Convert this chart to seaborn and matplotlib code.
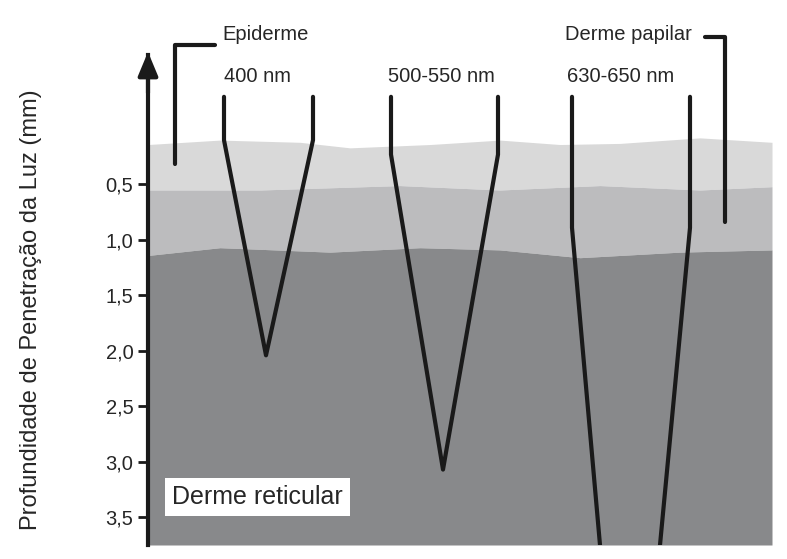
import matplotlib.pyplot as plt
import numpy as np
import pandas as pd
import seaborn as sns

sns.set_theme(style="white", rc={"figure.facecolor": "white"})
plt.rcParams["font.family"] = ["Liberation Sans", "DejaVu Sans"]

# depth in mm, x in horizontal diagram units
top_x = [148, 220, 300, 350, 430, 500, 560, 620, 700, 772]
top_d = [0.14, 0.10, 0.12, 0.17, 0.14, 0.10, 0.14, 0.13, 0.08, 0.12]
mid_x = [148, 260, 400, 500, 600, 700, 772]
mid_d = [0.55, 0.55, 0.51, 0.55, 0.51, 0.55, 0.52]
low_x = [148, 220, 330, 420, 500, 580, 680, 772]
low_d = [1.14, 1.07, 1.11, 1.07, 1.09, 1.16, 1.11, 1.09]
bottom_d = 3.75

ticks = [0.5, 1.0, 1.5, 2.0, 2.5, 3.0, 3.5]
tick_labels = ["0,5", "1,0", "1,5", "2,0", "2,5", "3,0", "3,5"]

# penetration paths per wavelength band
paths = {
    "400 nm": ([224, 224, 266, 313, 313], [-0.29, 0.10, 2.04, 0.10, -0.29]),
    "500-550 nm": ([391, 391, 443, 498, 498], [-0.29, 0.23, 3.07, 0.23, -0.29]),
    "630-650 a": ([572, 572, 600], [-0.29, 0.89, 3.75]),
    "630-650 b": ([690, 690, 660], [-0.29, 0.89, 3.75]),
}
band_labels = [("400 nm", 224), ("500-550 nm", 388), ("630-650 nm", 567)]

fig = plt.figure(figsize=(7.87, 5.59), dpi=100)
ax = fig.add_axes([148 / 787, 14 / 559, 624 / 787, 490 / 559])
ax.set_xlim(148, 772)
ax.set_ylim(bottom_d, -0.667)

grid = np.array(sorted(set(top_x + mid_x + low_x)))
t = np.interp(grid, top_x, top_d)
m = np.interp(grid, mid_x, mid_d)
l = np.interp(grid, low_x, low_d)
ax.fill_between(grid, t, m, color="#d9d9d9", lw=0)
ax.fill_between(grid, m, l, color="#bcbcbe", lw=0)
ax.fill_between(grid, l, bottom_d, color="#88898b", lw=0)

for name, (xs, ds) in paths.items():
    df = pd.DataFrame({"x": xs, "d": ds})
    sns.lineplot(data=df, x="x", y="d", sort=False, estimator=None,
                 color="#1a1a1a", lw=3, ax=ax)

for txt, x in band_labels:
    ax.text(x, -0.47, txt, fontsize=14.5, va="center", ha="left")

# brackets
ax.plot([175, 175, 215], [0.32, -0.76, -0.76], color="#1a1a1a", lw=3,
        clip_on=False)
ax.text(222, -0.85, "Epiderme", fontsize=14.5, va="center")
ax.plot([705, 725, 725], [-0.83, -0.83, 0.84], color="#1a1a1a", lw=3,
        clip_on=False)
ax.text(692, -0.85, "Derme papilar", fontsize=14.5, va="center", ha="right")

ax.text(172, 3.32, "Derme reticular", fontsize=18, va="center",
        bbox=dict(facecolor="white", edgecolor="none", pad=5))

for s in ["top", "right", "bottom"]:
    ax.spines[s].set_visible(False)
ax.spines["left"].set_linewidth(3)
ax.spines["left"].set_color("#1a1a1a")
ax.annotate("", xy=(148, -0.72), xytext=(148, -0.3),
            arrowprops=dict(arrowstyle="-|>,head_width=0.5,head_length=1.2",
                            color="#1a1a1a", lw=3), annotation_clip=False)
ax.set_xticks([])
ax.set_yticks(ticks)
ax.set_yticklabels(tick_labels, fontsize=14.5)
ax.tick_params(axis="y", left=True, length=7, width=2, color="#1a1a1a")
ax.set_ylabel("Profundidade de Penetração da Luz (mm)", fontsize=17)
ax.yaxis.set_label_coords(-0.17, 0.48)
ax.set_xlabel("")

fig.savefig("out.png", dpi=100)
